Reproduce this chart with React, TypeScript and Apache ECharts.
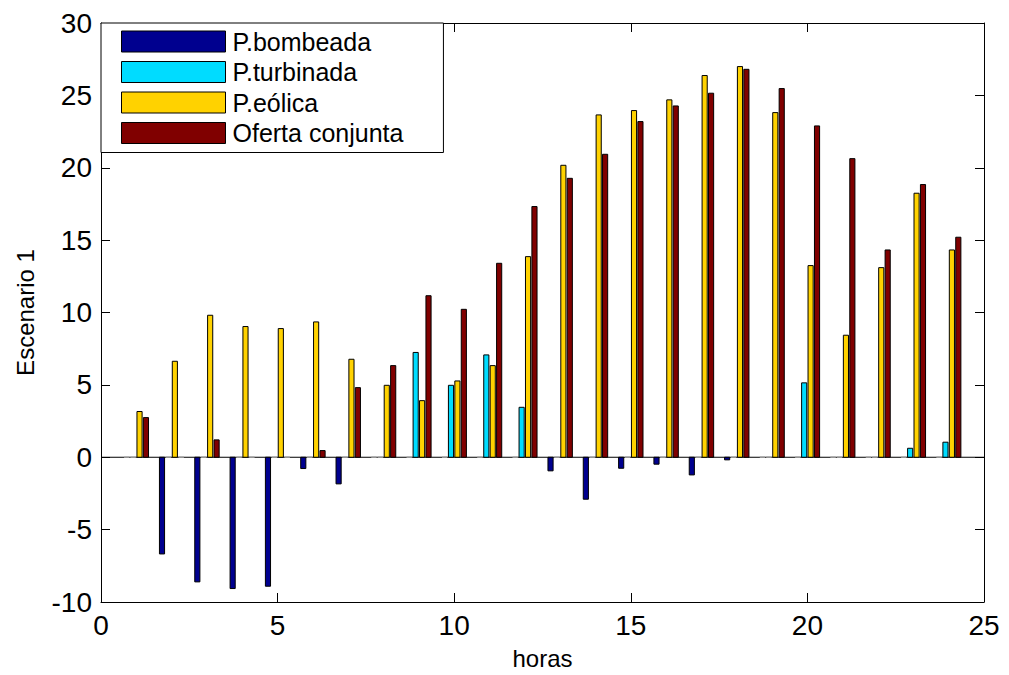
import React, { useEffect, useRef } from "react";
import * as echarts from "echarts";

const hours = [1, 2, 3, 4, 5, 6, 7, 8, 9, 10, 11, 12, 13, 14, 15, 16, 17, 18, 19, 20, 21, 22, 23, 24];
const seriesNames = ["P.bombeada", "P.turbinada", "P.eólica", "Oferta conjunta"];
const bombeada = [0, -6.68, -8.61, -9.07, -8.91, -0.78, -1.84, 0, 0, 0, 0, 0, -0.94, -2.9, -0.76, -0.48, -1.22, -0.18, 0, 0, 0, 0, 0, 0];
const turbinada = [0, 0, 0, 0, 0, 0, 0, 0, 7.24, 4.97, 7.07, 3.45, 0, 0, 0, 0, 0, 0, 0, 5.14, 0, 0, 0.62, 1.04];
const eolica = [3.16, 6.63, 9.81, 9.03, 8.89, 9.35, 6.77, 4.97, 3.91, 5.27, 6.33, 13.86, 20.17, 23.65, 23.95, 24.69, 26.37, 26.99, 23.81, 13.24, 8.43, 13.1, 18.24, 14.32];
const oferta = [2.74, 0, 1.2, 0, 0, 0.46, 4.81, 6.33, 11.16, 10.22, 13.4, 17.32, 19.27, 20.93, 23.19, 24.27, 25.15, 26.8, 25.47, 22.89, 20.63, 14.32, 18.84, 15.2];
const xTicks = [0, 25, 5];
const yTicks = [-10, 30, 5];

const colors = ["#00008f", "#00dcff", "#ffd200", "#800000"];
const FONT = "Liberation Sans, Arial, sans-serif";

export default function App() {
  const ref = useRef<HTMLDivElement>(null);
  useEffect(() => {
    if (!ref.current) return;
    const chart = echarts.init(ref.current, undefined, { renderer: "svg" });
    const allValues = [bombeada, turbinada, eolica, oferta];
    const groupWidth = Math.min(0.8, 4 / (4 + 1.5));
    const step = groupWidth / 4;
    const barW = step * 0.8;
    const offsets = [-1.5, -0.5, 0.5, 1.5].map((k) => k * step);

    const barSeries = allValues.map((vals, si) => ({
      type: "custom",
      name: seriesNames[si],
      xAxisIndex: 0,
      yAxisIndex: 0,
      itemStyle: { color: colors[si], borderColor: "#000", borderWidth: 1 },
      encode: { x: 0, y: 1 },
      data: hours.map((h, i) => [h, vals[i]]),
      z: 3,
      renderItem: (params: any, api: any) => {
        const cx = api.value(0) + offsets[si];
        const v = api.value(1);
        const p0 = api.coord([cx - barW / 2, 0]);
        const p1 = api.coord([cx + barW / 2, v]);
        const zero = v === 0;
        return {
          type: "rect",
          shape: {
            x: p0[0],
            y: Math.min(p0[1], p1[1]),
            width: p1[0] - p0[0],
            height: Math.abs(p1[1] - p0[1]),
          },
          style: {
            fill: colors[si],
            stroke: zero ? "#999" : "#000",
            lineWidth: 1,
          },
        };
      },
    }));

    chart.setOption({
      animation: false,
      backgroundColor: "#fff",
      textStyle: { fontFamily: FONT },
      grid: { left: 101, top: 23, right: 25, bottom: 72, containLabel: false },
      legend: {
        data: seriesNames,
        orient: "vertical",
        left: 101,
        top: 23,
        icon: "rect",
        itemWidth: 104,
        itemHeight: 21,
        itemGap: 5.5,
        padding: [6, 40, 7, 20],
        backgroundColor: "#fff",
        borderColor: "#000",
        borderWidth: 1,
        borderRadius: 0,
        selectedMode: false,
        itemStyle: { borderColor: "#000", borderWidth: 1 },
        textStyle: { fontFamily: FONT, fontSize: 25, color: "#000", lineHeight: 21, padding: [0, 0, 0, 2] },
      },
      xAxis: [
        {
          type: "value",
          min: xTicks[0],
          max: xTicks[1],
          interval: xTicks[2],
          position: "bottom",
          name: "horas",
          nameLocation: "middle",
          nameGap: 44,
          nameTextStyle: { fontFamily: FONT, fontSize: 24, color: "#000" },
          axisLine: { onZero: false, lineStyle: { color: "#000", width: 1 } },
          axisTick: { inside: true, length: 9, lineStyle: { color: "#000" } },
          axisLabel: { fontFamily: FONT, fontSize: 28, color: "#000", margin: 9 },
          splitLine: { show: false },
        },
        {
          type: "value",
          min: xTicks[0],
          max: xTicks[1],
          interval: xTicks[2],
          position: "top",
          axisLine: { onZero: false, lineStyle: { color: "#000", width: 1 } },
          axisTick: { inside: true, length: 9, lineStyle: { color: "#000" } },
          axisLabel: { show: false },
          splitLine: { show: false },
        },
      ],
      yAxis: [
        {
          type: "value",
          min: yTicks[0],
          max: yTicks[1],
          interval: yTicks[2],
          position: "left",
          name: "Escenario 1",
          nameLocation: "middle",
          nameGap: 64,
          nameTextStyle: { fontFamily: FONT, fontSize: 24, color: "#000" },
          axisLine: { onZero: false, lineStyle: { color: "#000", width: 1 } },
          axisTick: { inside: true, length: 9, lineStyle: { color: "#000" } },
          axisLabel: { fontFamily: FONT, fontSize: 28, color: "#000", margin: 9 },
          splitLine: { show: false },
        },
        {
          type: "value",
          min: yTicks[0],
          max: yTicks[1],
          interval: yTicks[2],
          position: "right",
          axisLine: { onZero: false, lineStyle: { color: "#000", width: 1 } },
          axisTick: { inside: true, length: 9, lineStyle: { color: "#000" } },
          axisLabel: { show: false },
          splitLine: { show: false },
        },
      ],
      series: [
        {
          type: "line",
          name: "baseline",
          data: [
            [xTicks[0], 0],
            [xTicks[1], 0],
          ],
          symbol: "none",
          lineStyle: { color: "#000", width: 1 },
          z: 2,
          silent: true,
        },
        ...barSeries,
      ],
    });
    return () => chart.dispose();
  }, []);
  return (
    <div
      ref={ref}
      style={{ position: "absolute", left: 0, top: 0, width: 1009, height: 675 }}
    />
  );
}
